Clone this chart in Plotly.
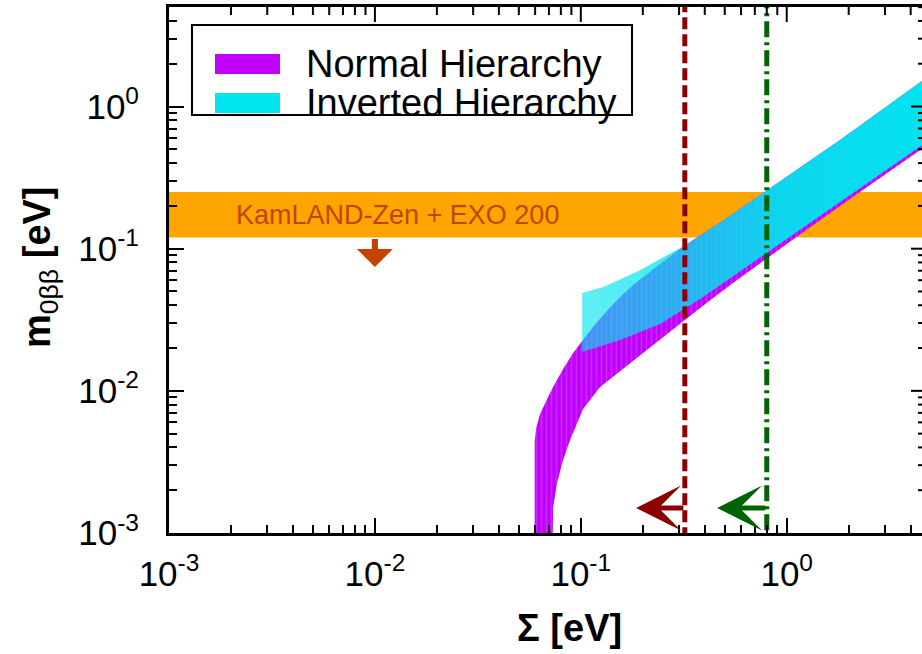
import math
import plotly.graph_objects as go

# ---------------- data ----------------
# Normal hierarchy band: upper and lower edges of m_0bb [eV] versus Sigma [eV]
nh_upper_sigma = [0.0597, 0.0597, 0.06067, 0.06342, 0.06862, 0.07335, 0.08203, 0.09176, 0.1015,
                  0.1200, 0.1467, 0.1794, 0.2427, 0.3138, 0.4745, 0.7843, 1.814, 4.538, 6.0]
nh_upper_mbb = [0.0005, 0.004364, 0.005474, 0.006868, 0.008756, 0.01063, 0.01423, 0.01844, 0.02239,
                0.03047, 0.04211, 0.05546, 0.07791, 0.1036, 0.1528, 0.2507, 0.5803, 1.509, 1.995]
nh_lower_sigma = [0.0726, 0.0734, 0.0767, 0.0820, 0.0887, 0.1026, 0.1241, 0.1794, 0.2624,
                  0.3794, 0.5486, 0.7843, 1.1604, 2.029, 4.538, 6.0]
nh_lower_mbb = [0.0005, 0.001524, 0.002246, 0.00326, 0.00451, 0.007447, 0.01063, 0.01621, 0.02508,
                0.03822, 0.05728, 0.08385, 0.1260, 0.2240, 0.5065, 0.6697]

# Inverted hierarchy band
ih_upper_sigma = [0.1015, 0.1283, 0.1876, 0.3138, 0.4745, 0.7843, 1.814, 4.538, 6.0]
ih_upper_mbb = [0.04873, 0.05370, 0.06880, 0.1036, 0.1528, 0.2507, 0.5803, 1.509, 1.995]
ih_lower_sigma = [0.1015, 0.1552, 0.2427, 0.3794, 0.5934, 0.7843, 1.1604, 2.029, 4.538, 6.0]
ih_lower_mbb = [0.01875, 0.02276, 0.02950, 0.04420, 0.06902, 0.09163, 0.1351, 0.2381, 0.5354, 0.7079]

# KamLAND-Zen + EXO 200 excluded band [eV]
kamland_exo_band = [0.12, 0.25]
kamland_label = "KamLAND-Zen + EXO 200"
kamland_arrow_sigma = 0.01
kamland_arrow_tip = 0.0743

# Upper limits on Sigma [eV] with their arrows
sigma_limit_dashed = 0.32
sigma_limit_dashdot = 0.8
dashed_arrow_tip = 0.1855
dashdot_arrow_tip = 0.459
limit_arrow_mbb = 0.0015

legend_labels = ["Normal Hierarchy", "Inverted Hierarchy"]

x_tick_vals = [1e-3, 1e-2, 1e-1, 1e0]
x_tick_text = ["10<sup>-3</sup>", "10<sup>-2</sup>", "10<sup>-1</sup>", "10<sup>0</sup>"]
y_tick_vals = [1e-3, 1e-2, 1e-1, 1e0]
y_tick_text = ["10<sup>-3</sup>", "10<sup>-2</sup>", "10<sup>-1</sup>", "10<sup>0</sup>"]

# ---------------- style ----------------
FONT = "Liberation Sans, Arial, Helvetica, sans-serif"
PURPLE = "#bf00ff"
CYAN = "#00e5ee"
ORANGE = "#ffa500"
BROWN = "#c24400"
DARKRED = "#8b0000"
DARKGREEN = "#006400"
FRAME_TICK = "black"

W, H = 922, 654
ML, MR, MT, MB = 169, 0, 7, 121
PW = W - ML - MR
PH = H - MT - MB
X_RANGE = [-3, 0.657]
Y_RANGE = [-3, 0.7]
MAJOR_LEN, MINOR_LEN = 15, 8

minor_x = [m * 10.0 ** e for e in range(-3, 1) for m in range(2, 10)]
minor_y = [m * 10.0 ** e for e in range(-3, 1) for m in range(2, 10)]

fig = go.Figure()

# orange exclusion band
fig.add_trace(go.Scatter(
    x=[1e-4, 10, 10, 1e-4],
    y=[kamland_exo_band[0], kamland_exo_band[0], kamland_exo_band[1], kamland_exo_band[1]],
    fill="toself", fillcolor=ORANGE, mode="lines", line=dict(width=0),
    hoverinfo="skip", showlegend=False))

# normal hierarchy
fig.add_trace(go.Scatter(
    x=nh_upper_sigma + nh_lower_sigma[::-1],
    y=nh_upper_mbb + nh_lower_mbb[::-1],
    fill="toself", fillcolor=PURPLE, mode="lines", line=dict(width=0),
    fillpattern=dict(shape="|", fgcolor="#d456ff", bgcolor=PURPLE, size=5, solidity=0.3),
    name=legend_labels[0], showlegend=False))

# inverted hierarchy (semi-transparent where it overlaps the normal band)
fig.add_trace(go.Scatter(
    x=ih_upper_sigma + ih_lower_sigma[::-1],
    y=ih_upper_mbb + ih_lower_mbb[::-1],
    fill="toself", mode="lines", line=dict(width=0),
    fillgradient=dict(type="horizontal",
                      colorscale=[[0.0, "rgba(0,229,238,0.62)"],
                                  [0.25, "rgba(0,229,238,0.75)"],
                                  [0.55, "rgba(0,229,238,0.93)"],
                                  [1.0, "rgba(0,229,238,1.0)"]]),
    name=legend_labels[1], showlegend=False))

# vertical limits on Sigma
fig.add_trace(go.Scatter(
    x=[sigma_limit_dashed, sigma_limit_dashed], y=[1e-4, 10], mode="lines",
    line=dict(color=DARKRED, width=5, dash="12px,5px"),
    showlegend=False, hoverinfo="skip"))
fig.add_trace(go.Scatter(
    x=[sigma_limit_dashdot, sigma_limit_dashdot], y=[1e-4, 10], mode="lines",
    line=dict(color=DARKGREEN, width=5, dash="16px,5px,3px,5px"),
    showlegend=False, hoverinfo="skip"))

# tick marks along the top and right frame edges
x_decade_px = PW / (X_RANGE[1] - X_RANGE[0])
y_decade_px = PH / (Y_RANGE[1] - Y_RANGE[0])
top_x, top_y = [], []
for vals, length in ((x_tick_vals, MAJOR_LEN), (minor_x, MINOR_LEN)):
    for v in vals:
        if X_RANGE[0] < math.log10(v) < X_RANGE[1]:
            top_x += [v, v, None]
            top_y += [10 ** Y_RANGE[1], 10 ** (Y_RANGE[1] - length / y_decade_px), None]
right_x, right_y = [], []
for vals, length in ((y_tick_vals, MAJOR_LEN - 4), (minor_y, MINOR_LEN - 4)):
    for v in vals:
        if Y_RANGE[0] < math.log10(v) <= Y_RANGE[1]:
            right_x += [10 ** X_RANGE[1], 10 ** (X_RANGE[1] - length / x_decade_px), None]
            right_y += [v, v, None]
fig.add_trace(go.Scatter(x=top_x, y=top_y, mode="lines", line=dict(color=FRAME_TICK, width=2),
                         showlegend=False, hoverinfo="skip", connectgaps=False))
fig.add_trace(go.Scatter(x=right_x, y=right_y, mode="lines", line=dict(color=FRAME_TICK, width=2),
                         showlegend=False, hoverinfo="skip", connectgaps=False))

tick_font = dict(family=FONT, size=35, color="black")
major = dict(ticks="inside", ticklen=MAJOR_LEN, tickwidth=2, tickcolor="black")


def minor_ticks(vals):
    return dict(ticks="inside", ticklen=MINOR_LEN, tickwidth=2, tickcolor="black",
                tickmode="array", tickvals=vals, showgrid=False)


fig.update_layout(
    width=W, height=H,
    margin=dict(l=ML, r=MR, t=MT, b=MB, pad=0),
    paper_bgcolor="white", plot_bgcolor="white",
    showlegend=False,
    xaxis=dict(
        type="log", range=X_RANGE, showgrid=False, zeroline=False, **major,
        showline=True, linewidth=3, linecolor="black", mirror=True,
        tickmode="array", tickvals=x_tick_vals, ticktext=x_tick_text,
        tickfont=tick_font, ticklabelstandoff=8,
        minor=minor_ticks(minor_x),
    ),
    yaxis=dict(
        type="log", range=Y_RANGE, showgrid=False, zeroline=False, **major,
        showline=True, linewidth=3, linecolor="black", mirror=False,
        tickmode="array", tickvals=y_tick_vals, ticktext=y_tick_text,
        tickfont=tick_font, ticklabelstandoff=20,
        minor=minor_ticks(minor_y),
    ),
)

annotations = []
# axis titles
annotations.append(dict(
    text="<b>Σ [eV]</b>", xref="paper", yref="paper", x=0.5325, y=-0.1806,
    xanchor="center", yanchor="middle", showarrow=False,
    font=dict(family=FONT, size=38, color="black")))
annotations.append(dict(
    text="<b>m</b><sub>0ββ</sub><b> [eV]</b>", xref="paper", yref="paper",
    x=-0.1713, y=0.5057, xanchor="center", yanchor="middle", textangle=-90,
    showarrow=False, font=dict(family=FONT, size=38, color="black")))

# band label and downward arrow
annotations.append(dict(
    text=kamland_label, xref="paper", yref="paper", x=0.3028, y=0.6046,
    xanchor="center", yanchor="middle", showarrow=False,
    font=dict(family=FONT, size=27, color=BROWN)))
annotations.append(dict(
    text="", x=math.log10(kamland_arrow_sigma), y=math.log10(kamland_arrow_tip),
    xref="x", yref="y", axref="x", ayref="y",
    ax=math.log10(kamland_arrow_sigma), ay=math.log10(kamland_exo_band[0]),
    showarrow=True, arrowhead=1, arrowsize=1.0, arrowwidth=6, arrowcolor=BROWN))

# leftward arrows from the Sigma limits
annotations.append(dict(
    text="", x=math.log10(dashed_arrow_tip), y=math.log10(limit_arrow_mbb),
    xref="x", yref="y", axref="x", ayref="y",
    ax=math.log10(sigma_limit_dashed), ay=math.log10(limit_arrow_mbb),
    showarrow=True, arrowhead=3, arrowsize=1.5, arrowwidth=5, arrowcolor=DARKRED))
annotations.append(dict(
    text="", x=math.log10(dashdot_arrow_tip), y=math.log10(limit_arrow_mbb),
    xref="x", yref="y", axref="x", ayref="y",
    ax=math.log10(sigma_limit_dashdot), ay=math.log10(limit_arrow_mbb),
    showarrow=True, arrowhead=3, arrowsize=1.5, arrowwidth=5, arrowcolor=DARKGREEN))


# legend box, swatches and labels
def px_x(px):
    return (px - ML) / PW


def px_y(py):
    return (H - MB - py) / PH


shapes = [
    dict(type="rect", xref="paper", yref="paper",
         x0=px_x(192), x1=px_x(632), y0=px_y(115), y1=px_y(25),
         line=dict(color="black", width=2), fillcolor="white", layer="above"),
    dict(type="rect", xref="paper", yref="paper",
         x0=px_x(215), x1=px_x(280), y0=px_y(74), y1=px_y(54),
         line=dict(width=0), fillcolor=PURPLE, layer="above"),
    dict(type="rect", xref="paper", yref="paper",
         x0=px_x(215), x1=px_x(280), y0=px_y(113), y1=px_y(93),
         line=dict(width=0), fillcolor=CYAN, layer="above"),
]
annotations.append(dict(
    text=legend_labels[0], xref="paper", yref="paper", x=px_x(304), y=px_y(64),
    xanchor="left", yanchor="middle", showarrow=False,
    font=dict(family=FONT, size=38, color="black")))
annotations.append(dict(
    text=legend_labels[1], xref="paper", yref="paper", x=px_x(304), y=px_y(103),
    xanchor="left", yanchor="middle", showarrow=False,
    font=dict(family=FONT, size=38, color="black")))

fig.update_layout(annotations=annotations, shapes=shapes)

fig.write_html("out.html")
